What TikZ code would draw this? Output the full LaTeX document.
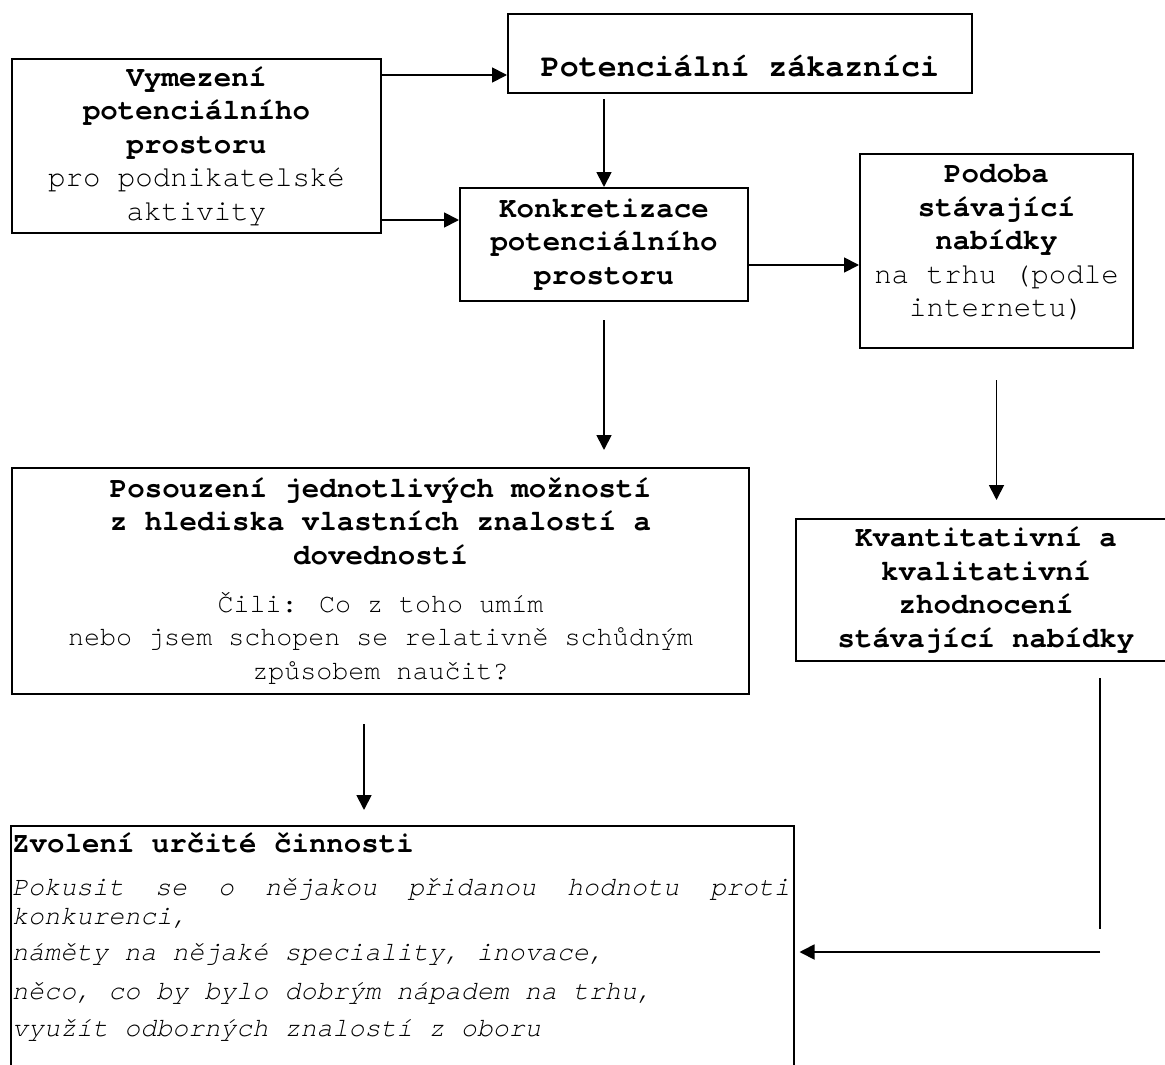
\documentclass[tikz,border=0pt]{standalone}
\usepackage{fontspec}
\setmainfont{texgyrecursor}[Extension=.otf,UprightFont=*-regular,BoldFont=*-bold,ItalicFont=*-italic,BoldItalicFont=*-bolditalic]
\usetikzlibrary{arrows.meta,positioning}
\tikzstyle{box} = [draw,line width=2pt,inner sep=0,align=center,anchor=north west]
\tikzstyle{flow} = [-{Triangle[length=15pt,width=15pt]},line width=1.8pt]
\tikzstyle{plainline} = [-,line width=1.8pt]
\def \twelve {\fontsize{29.1pt}{33.5pt}\selectfont}
\def \eleven {\fontsize{26.7pt}{33.5pt}\selectfont}
\def \thirteen {\fontsize{31.6pt}{36pt}\selectfont}

\begin{document}
\begin{tikzpicture}[x=1pt,y=-1pt]
      \useasboundingbox (0,0) rectangle (1165,1065);
      \node[box,minimum width=369pt,minimum height=174pt,font=\twelve] (vymezeni) at (11,58) {\textbf{Vymezení}\\\textbf{potenciálního}\\\textbf{prostoru}\\pro podnikatelské\\aktivity};
      \node[box,minimum width=464pt,minimum height=79pt,font=\thirteen\bfseries,text height=46pt,text depth=0pt] (zakaznici) at (507,13) {Potenciální zákazníci};
      \node[box,minimum width=288pt,minimum height=113pt,font=\twelve\bfseries] (konkretizace) at (459,187) {Konkretizace\\potenciálního\\prostoru};
      \node[box,minimum width=273pt,minimum height=194pt,font=\twelve] (podoba) at (859,153) {\textbf{Podoba}\\\textbf{stávající}\\\textbf{nabídky}\\na trhu (podle\\internetu)\\[-12.5pt]\mbox{}};
      \node[box,minimum width=737pt,minimum height=226pt,font=\twelve] (posouzeni) at (11,467) {\textbf{Posouzení jednotlivých možností}\\\textbf{z hlediska vlastních znalostí a}\\\textbf{dovedností}\\[14.5pt]{\eleven Čili: Co z toho umím}\\{\eleven nebo jsem schopen se relativně schůdným}\\{\eleven způsobem naučit?}};
      \node[box,minimum width=380pt,minimum height=142pt,font=\twelve\bfseries] (hodnoceni) at (795,518) {Kvantitativní a\\kvalitativní\\zhodnocení\\stávající nabídky};
      \node[box,minimum width=783pt,minimum height=300pt] (zvoleni) at (10,825) {};
      \node[anchor=north west,inner sep=0,align=left,font=\eleven\itshape] (zvolenitext) at ([xshift=2pt,yshift=-8pt]zvoleni.north west) {\textbf{\upshape\twelve Zvolení určité činnosti}\\[9pt]\hbox to 778pt{Pokusit\hfill se\hfill o\hfill nějakou\hfill přidanou\hfill hodnotu\hfill proti}\\[-4pt]konkurenci,\\[2pt]náměty na nějaké speciality, inovace,\\[6pt]něco, co by bylo dobrým nápadem na trhu,\\[3pt]využít odborných znalostí z oboru};
      \coordinate (aup) at ([yshift=-17pt]vymezeni.north east);
      \coordinate (adown) at ([yshift=14pt]vymezeni.south east);
      \coordinate (cout) at ([yshift=-20.5pt]konkretizace.east);
      \coordinate (eout) at ([xshift=-16.5pt]posouzeni.south);
      \coordinate (corner) at (1100,952);
      \draw[flow] (aup) -- (aup -| zakaznici.west);
      \draw[flow] (adown) -- (adown -| konkretizace.west);
      \draw[flow,shorten <=5pt] (konkretizace.north |- zakaznici.south) -- (konkretizace.north);
      \draw[flow] (cout) -- (cout -| podoba.west);
      \draw[flow,shorten <=18pt,shorten >=17pt] (konkretizace.south) -- (konkretizace.south |- posouzeni.north);
      \draw[flow,shorten <=31pt,shorten >=18pt] (podoba.south) -- (podoba.south |- hodnoceni.north);
      \draw[flow,shorten <=29pt,shorten >=15pt] (eout) -- (eout |- zvoleni.north);
      \draw[plainline,shorten <=16pt,shorten >=23pt] (corner |- hodnoceni.south) -- (corner);
      \draw[flow,shorten >=4.5pt] (corner) -- (corner -| zvoleni.east);
    \end{tikzpicture}
\end{document}
